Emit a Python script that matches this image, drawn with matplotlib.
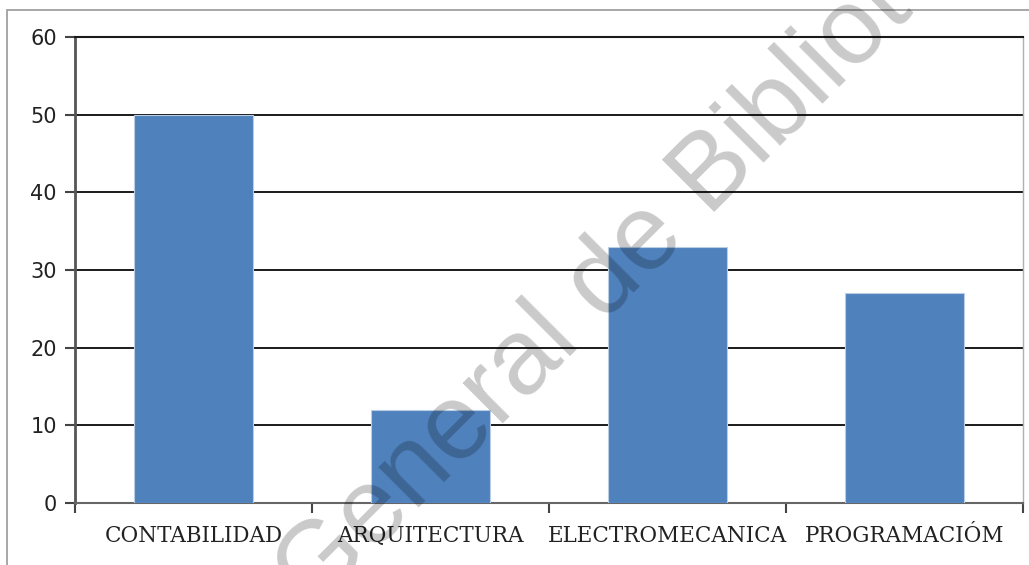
import matplotlib
matplotlib.use("Agg")
import matplotlib.pyplot as plt
from matplotlib.patches import Rectangle

categories = ['CONTABILIDAD', 'ARQUITECTURA', 'ELECTROMECANICA', 'PROGRAMACIÓM']
values = [50, 12, 33, 27]
y_ticks = [0, 10, 20, 30, 40, 50, 60]

bar_color = '#4F81BD'

fig = plt.figure(figsize=(10.29, 5.65), dpi=100)
ax = fig.add_axes([75 / 1029, 1 - 503 / 565, 948 / 1029, 466 / 565])

x = list(range(len(categories)))
ax.bar(x, values, width=0.5, color=bar_color, edgecolor='#b9cde5', linewidth=0.8, zorder=3)

ax.set_xlim(-0.5, len(categories) - 0.5)
ax.set_ylim(0, 60)
ax.set_yticks(y_ticks)
ax.set_yticklabels([str(v) for v in y_ticks], fontsize=15, family='DejaVu Sans', color='#222222')
ax.yaxis.grid(True, color='#1a1a1a', linewidth=1.4, zorder=1)
ax.set_axisbelow(True)

ax.set_xticks(x)
ax.set_xticklabels(categories, fontsize=15.5, family='DejaVu Serif', color='#222222')
ax.set_xticks([i - 0.5 for i in range(len(categories) + 1)], minor=True)
ax.tick_params(axis='x', which='major', length=0, pad=16)
ax.tick_params(axis='x', which='minor', length=7, width=1.5, color='#444444', direction='out')
ax.tick_params(axis='y', length=7, width=1.5, color='#444444', pad=6)

ax.spines['left'].set_color('#555555')
ax.spines['left'].set_linewidth(2)
ax.spines['bottom'].set_color('#666666')
ax.spines['bottom'].set_linewidth(1.5)
ax.spines['top'].set_color('#1a1a1a')
ax.spines['top'].set_linewidth(1.5)
ax.spines['right'].set_color('#b0b0b0')
ax.spines['right'].set_linewidth(1)

# outer chart frame (only top and left edges visible)
fig.add_artist(Rectangle((7 / 1029, -0.05), 1.1, 1.05 - 10 / 565, transform=fig.transFigure,
                         fill=False, edgecolor='#a0a0a0', linewidth=1.3, clip_on=False))

# watermark
fig.text(655 / 1029, 1 - 232 / 565, 'General de Biblioteca', fontsize=77, family='Liberation Sans',
         color='black', alpha=0.21, rotation=45, ha='center', va='center',
         rotation_mode='anchor', zorder=10)

fig.savefig('out.png', dpi=100, facecolor='white')
